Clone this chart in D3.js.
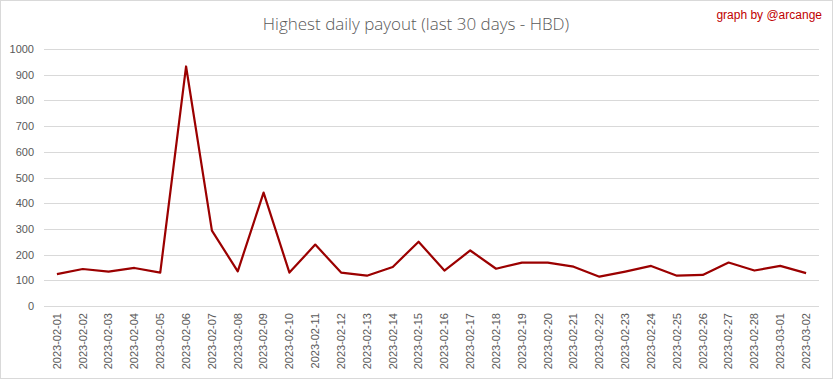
<!DOCTYPE html>
<html>
<head>
<meta charset="utf-8">
<script src="https://cdn.jsdelivr.net/npm/d3@7"></script>
<style>
  body { margin: 0; background: #fff; }
  svg { display: block; font-family: "Liberation Sans", "DejaVu Sans", sans-serif; }
</style>
</head>
<body>
<svg id="chart" width="833" height="379"></svg>
<script>
// Chart data
const dates = [
  "2023-02-01", "2023-02-02", "2023-02-03", "2023-02-04", "2023-02-05", "2023-02-06",
  "2023-02-07", "2023-02-08", "2023-02-09", "2023-02-10", "2023-02-11", "2023-02-12",
  "2023-02-13", "2023-02-14", "2023-02-15", "2023-02-16", "2023-02-17", "2023-02-18",
  "2023-02-19", "2023-02-20", "2023-02-21", "2023-02-22", "2023-02-23", "2023-02-24",
  "2023-02-25", "2023-02-26", "2023-02-27", "2023-02-28", "2023-03-01", "2023-03-02"
];
const payouts = [
  124, 144, 134, 148, 130, 932, 293, 135, 441, 130, 239, 130, 118, 152, 250,
  138, 216, 145, 169, 169, 153, 114, 134, 156, 118, 121, 169, 138, 156, 128
];
const yTicks = [0, 100, 200, 300, 400, 500, 600, 700, 800, 900, 1000];

const svg = d3.select("#chart");
const width = +svg.attr("width");
const height = +svg.attr("height");
const margin = { top: 49, right: 14, bottom: 73, left: 44 };

// outer border
svg.append("rect")
  .attr("x", 0.5).attr("y", 0.5)
  .attr("width", width - 1).attr("height", height - 1)
  .attr("fill", "#fff")
  .attr("stroke", "#d9d9d9");

const x = d3.scaleBand()
  .domain(dates)
  .range([margin.left, width - margin.right]);

const y = d3.scaleLinear()
  .domain([0, 1000])
  .range([height - margin.bottom, margin.top]);

// gridlines
svg.append("g")
  .selectAll("line")
  .data(yTicks)
  .join("line")
  .attr("x1", margin.left)
  .attr("x2", width - margin.right)
  .attr("y1", d => Math.round(y(d)) + 0.5)
  .attr("y2", d => Math.round(y(d)) + 0.5)
  .attr("stroke", "#d9d9d9")
  .attr("stroke-width", 1);

// y axis labels
const yAxis = d3.axisLeft(y).tickValues(yTicks).tickFormat(d3.format("d")).tickSize(0).tickPadding(10);
svg.append("g")
  .attr("transform", `translate(${margin.left},0)`)
  .call(yAxis)
  .call(g => g.select(".domain").remove())
  .call(g => g.selectAll("text")
    .attr("fill", "#595959")
    .style("font-size", "11px"));

// x axis labels (rotated)
const xAxis = d3.axisBottom(x).tickSize(0).tickPadding(0);
svg.append("g")
  .attr("transform", `translate(0,${height - margin.bottom})`)
  .call(xAxis)
  .call(g => g.select(".domain").remove())
  .call(g => g.selectAll("text")
    .attr("fill", "#595959")
    .style("font-size", "11px")
    .attr("text-anchor", "end")
    .attr("transform", "rotate(-90)")
    .attr("x", -7)
    .attr("y", 0)
    .attr("dy", "0.35em"));

// line
const line = d3.line()
  .x((d, i) => x(dates[i]) + x.bandwidth() / 2)
  .y(d => y(d));

svg.append("path")
  .datum(payouts)
  .attr("d", line)
  .attr("fill", "none")
  .attr("stroke", "#9b0000")
  .attr("stroke-width", 2.2)
  .attr("stroke-linejoin", "round");

// title
svg.append("text")
  .attr("x", 416)
  .attr("y", 30)
  .attr("text-anchor", "middle")
  .attr("fill", "#595959")
  .style("font-size", "17px")
  .style("font-family", "'Open Sans', sans-serif")
  .style("font-weight", 300)
  .text("Highest daily payout (last 30 days - HBD)");

svg.append("text")
  .attr("x", 822)
  .attr("y", 19)
  .attr("text-anchor", "end")
  .attr("fill", "#c00000")
  .style("font-size", "12px")
  .text("graph by @arcange");
</script>
</body>
</html>
